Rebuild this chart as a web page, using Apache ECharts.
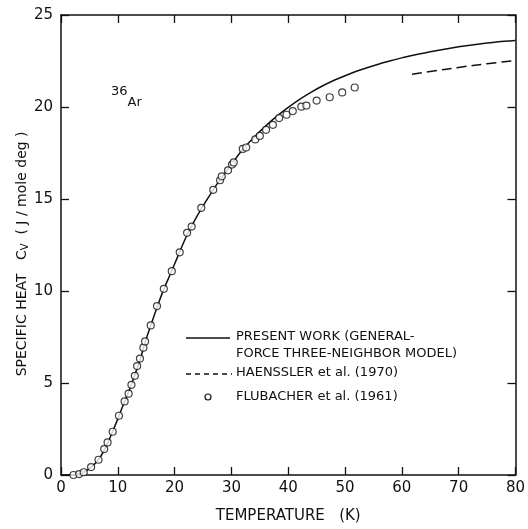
<!DOCTYPE html>
<html>
<head>
<meta charset="utf-8">
<script src="https://cdn.jsdelivr.net/npm/echarts@6/dist/echarts.min.js"></script>
<style>html,body{margin:0;padding:0;background:#fff;}#c{width:528px;height:529px;}</style>
</head>
<body>
<div id="c"></div>
<script>
// Present work (general-force three-neighbor model): [T (K), Cv]
var presentT  = [0, 1, 2, 3, 4, 5, 6, 7, 8, 9, 10, 11, 12, 13, 14, 15, 16, 17, 18, 19, 20, 22, 24, 26, 28, 30, 32, 34, 36, 38, 40, 42, 44, 46, 48, 50, 52, 54, 56, 58, 60, 62, 64, 66, 68, 70, 72, 74, 76, 78, 80];
var presentCv = [0, 0, 0.02, 0.06, 0.16, 0.35, 0.63, 1.02, 1.6, 2.3, 3.05, 3.85, 4.6, 5.45, 6.35, 7.4, 8.3, 9.2, 10.02, 10.75, 11.47, 12.92, 14.1, 15.12, 16.05, 16.88, 17.7, 18.36, 18.96, 19.5, 19.98, 20.42, 20.8, 21.14, 21.44, 21.7, 21.94, 22.15, 22.34, 22.51, 22.67, 22.81, 22.94, 23.06, 23.17, 23.27, 23.36, 23.44, 23.51, 23.57, 23.62];
// Haenssler et al. (1970)
var haenT  = [61.8, 65, 70, 75, 80];
var haenCv = [21.78, 21.93, 22.15, 22.35, 22.52];
// Flubacher et al. (1961)
var flubT  = [2.2, 3.2, 4.0, 5.3, 6.6, 7.6, 8.2, 9.1, 10.2, 11.2, 11.9, 12.4, 13.0, 13.4, 13.9, 14.5, 14.8, 15.8, 16.9, 18.1, 19.5, 20.9, 22.2, 23.0, 24.7, 26.8, 28.0, 28.3, 29.4, 30.1, 30.4, 32.0, 32.6, 34.2, 35.0, 36.1, 37.3, 38.4, 39.7, 40.8, 42.3, 43.2, 45.0, 47.3, 49.5, 51.7];
var flubCv = [0.0, 0.05, 0.15, 0.43, 0.83, 1.41, 1.77, 2.35, 3.22, 4.0, 4.42, 4.9, 5.39, 5.92, 6.33, 6.92, 7.26, 8.13, 9.18, 10.12, 11.08, 12.1, 13.16, 13.5, 14.52, 15.5, 16.02, 16.23, 16.56, 16.87, 16.99, 17.72, 17.8, 18.24, 18.43, 18.76, 19.03, 19.4, 19.58, 19.78, 20.02, 20.08, 20.35, 20.53, 20.79, 21.06];

var xTicks = [0, 10, 20, 30, 40, 50, 60, 70, 80];
var yTicks = [0, 5, 10, 15, 20, 25];

function zip(a, b) { return a.map(function (v, i) { return [v, b[i]]; }); }

var FONT = 'DejaVu Sans';
var INK = '#111';
var chart = echarts.init(document.getElementById('c'));
function axisBase() {
  return {
    min: 0, axisLine: { show: true, onZero: false, lineStyle: { color: INK, width: 1.5 } },
    axisTick: { show: true, inside: true, length: 8, lineStyle: { color: INK, width: 1.3 } },
    splitLine: { show: false }
  };
}
chart.setOption({
  animation: false,
  backgroundColor: '#fff',
  grid: { left: 61, right: 12, top: 15, bottom: 53 },
  xAxis: [
    Object.assign(axisBase(), {
      type: 'value', max: 80, interval: 10, position: 'bottom',
      axisLabel: { color: INK, fontFamily: FONT, fontSize: 15, margin: 6,
        formatter: function (v) { return xTicks.indexOf(v) >= 0 ? String(v) : ''; } },
      name: 'TEMPERATURE   (K)', nameLocation: 'middle', nameGap: 34,
      nameTextStyle: { color: INK, fontFamily: FONT, fontSize: 15 }
    }),
    Object.assign(axisBase(), {
      type: 'value', max: 80, interval: 10, position: 'top', axisLabel: { show: false }
    })
  ],
  yAxis: [
    Object.assign(axisBase(), {
      type: 'value', max: 25, interval: 5, position: 'left',
      axisLabel: { color: INK, fontFamily: FONT, fontSize: 15, margin: 8,
        formatter: function (v) { return yTicks.indexOf(v) >= 0 ? String(v) : ''; } },
      name: 'SPECIFIC HEAT   C{sub|V}  ( J / mole deg )    ', nameLocation: 'middle', nameGap: 31,
      nameMoveOverlap: false,
      nameTextStyle: { color: INK, fontFamily: FONT, fontSize: 14,
        rich: { sub: { fontFamily: FONT, fontSize: 10, color: INK, verticalAlign: 'bottom', padding: [6, 0, 0, 0] } } }
    }),
    Object.assign(axisBase(), {
      type: 'value', max: 25, interval: 5, position: 'right', axisLabel: { show: false }
    })
  ],
  series: [
    { name: 'present', type: 'line', data: zip(presentT, presentCv), showSymbol: false,
      smooth: 0.25, lineStyle: { color: INK, width: 1.5 }, z: 2 },
    { name: 'haenssler', type: 'line', data: zip(haenT, haenCv), showSymbol: false,
      smooth: true, lineStyle: { color: INK, width: 1.5, type: [10, 5] }, z: 2 },
    { name: 'flubacher', type: 'scatter', data: zip(flubT, flubCv), symbol: 'circle', symbolSize: 7,
      itemStyle: { color: '#fff', borderColor: INK, borderWidth: 1.2 }, z: 3 }
  ],
  graphic: [
    { type: 'text', left: 111, top: 85, style: { text: '{sup|36}{base|Ar}', rich: {
      sup: { fontFamily: FONT, fontSize: 13, fill: INK, verticalAlign: 'top' },
      base: { fontFamily: FONT, fontSize: 13, fill: INK, padding: [11, 0, 0, 0] } } } },
    { type: 'line', shape: { x1: 186, y1: 338, x2: 230, y2: 338 }, style: { stroke: INK, lineWidth: 1.3 } },
    { type: 'text', left: 236, top: 330, style: { text: 'PRESENT WORK (GENERAL-', font: '13px "DejaVu Sans"', fill: INK } },
    { type: 'text', left: 236, top: 347, style: { text: 'FORCE THREE-NEIGHBOR MODEL)', font: '13px "DejaVu Sans"', fill: INK } },
    { type: 'line', shape: { x1: 186, y1: 374, x2: 232, y2: 374 }, style: { stroke: INK, lineWidth: 1.3, lineDash: [5, 4] } },
    { type: 'text', left: 236, top: 366, style: { text: 'HAENSSLER et al. (1970)', font: '13px "DejaVu Sans"', fill: INK } },
    { type: 'circle', shape: { cx: 208, cy: 397, r: 3 }, style: { fill: '#fff', stroke: INK, lineWidth: 1.2 } },
    { type: 'text', left: 236, top: 390, style: { text: 'FLUBACHER et al. (1961)', font: '13px "DejaVu Sans"', fill: INK } }
  ]
});
</script>
</body>
</html>
